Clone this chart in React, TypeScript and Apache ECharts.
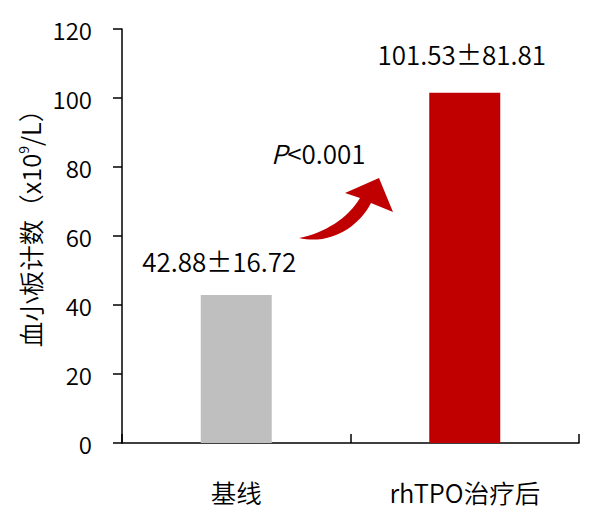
import React, { useEffect, useRef } from "react";
import * as echarts from "echarts";

const categories = ["基线", "rhTPO治疗后"];
const values = [42.88, 101.53];
const valueLabels = ["42.88±16.72", "101.53±81.81"];
const barColors = ["#BFBFBF", "#C00000"];
const yTicks = { min: 0, max: 120, interval: 20 };

const FONT = '"Noto Sans CJK SC", "Noto Sans", sans-serif';
const W = 350;

const arrowD =
  "M299,238 C330,245 358,228 371,203 L393,212 L379,178 L345,193 L360,198 C348,218 325,233 299,238 Z";

let registered = false;
function ensureShape() {
  if (registered) return;
  echarts.graphic.registerShape("curvedArrow", echarts.graphic.extendPath(arrowD, {}) as any);
  registered = true;
}

export default function App() {
  const ref = useRef<HTMLDivElement>(null);
  useEffect(() => {
    if (!ref.current) return;
    ensureShape();
    const chart = echarts.init(ref.current, null, { renderer: "svg" });
    chart.setOption({
      animation: false,
      backgroundColor: "#ffffff",
      grid: { left: 122, right: 21, top: 29, bottom: 82 },
      xAxis: {
        type: "category",
        data: categories,
        axisLine: { lineStyle: { color: "#000", width: 1.5 } },
        axisTick: { show: true, inside: true, length: 9, lineStyle: { color: "#000", width: 1.5 } },
        axisLabel: { color: "#000", fontSize: 25.5, fontWeight: W, fontFamily: FONT, margin: 36 },
      },
      yAxis: {
        type: "value",
        min: yTicks.min,
        max: yTicks.max,
        interval: yTicks.interval,
        splitLine: { show: false },
        axisLine: { show: true, lineStyle: { color: "#000", width: 1.5 } },
        axisTick: { show: true, length: 9, lineStyle: { color: "#000", width: 1.5 } },
        axisLabel: { color: "#000", fontSize: 24, fontWeight: W, fontFamily: FONT, margin: 30 },
      },
      series: [
        {
          type: "bar",
          barWidth: 71,
          data: values.map((v, i) => ({
            value: v,
            itemStyle: { color: barColors[i] },
            label: {
              show: true,
              position: "top",
              distance: i === 0 ? 22 : 26,
              offset: i === 0 ? [-17, 0] : [-3, 0],
              formatter: valueLabels[i],
              color: "#000",
              fontSize: 26,
              fontWeight: W,
              fontFamily: FONT,
            },
          })),
        },
      ],
      graphic: [
        {
          type: "text",
          x: 29,
          y: 222,
          rotation: Math.PI / 2,
          style: {
            text: "{a|血小板计数（x10}{s|9}{a|/L）}",
            align: "center",
            verticalAlign: "middle",
            rich: {
              a: { fontSize: 25.5, fontWeight: W, fontFamily: FONT, fill: "#000" },
              s: { fontSize: 14, fontWeight: W, fontFamily: FONT, fill: "#000", verticalAlign: "top" },
            },
          },
        },
        {
          type: "text",
          x: 271,
          y: 152,
          style: {
            text: "{i|P}{n|<0.001}",
            verticalAlign: "middle",
            rich: {
              i: { fontSize: 26, fontWeight: W, fontFamily: FONT, fontStyle: "italic", fill: "#000" },
              n: { fontSize: 26, fontWeight: W, fontFamily: FONT, fill: "#000" },
            },
          },
        },
        {
          type: "curvedArrow",
          x: 0,
          y: 0,
          style: { fill: "#C00000", stroke: "none" },
        },
      ],
    });
    return () => chart.dispose();
  }, []);
  return <div ref={ref} style={{ position: "absolute", left: 0, top: 0, width: 600, height: 525 }} />;
}
